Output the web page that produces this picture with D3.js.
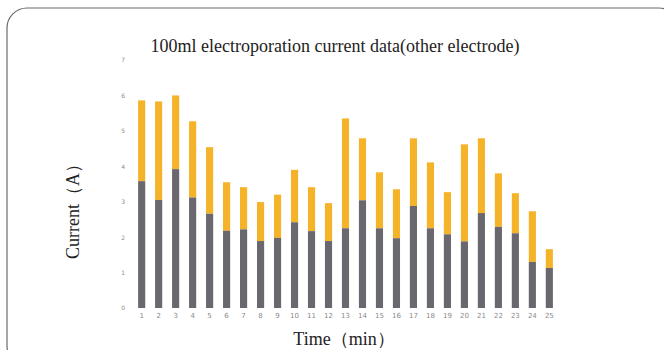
<!DOCTYPE html>
<html><head><meta charset="utf-8">
<script src="https://cdn.jsdelivr.net/npm/d3@7"></script>
<style>body{margin:0;background:#fff;}svg{display:block;}</style>
</head><body>
<svg id="c" width="664" height="350"></svg>
<script>
const categories = ["1","2","3","4","5","6","7","8","9","10","11","12","13","14","15","16","17","18","19","20","21","22","23","24","25"];
const grayValues = [3.58,3.05,3.92,3.12,2.66,2.18,2.22,1.89,1.98,2.42,2.17,1.89,2.25,3.04,2.25,1.97,2.88,2.25,2.08,1.88,2.68,2.29,2.11,1.30,1.13];
const totalValues = [5.86,5.83,6.0,5.27,4.54,3.55,3.41,2.99,3.2,3.9,3.41,2.96,5.35,4.79,3.83,3.35,4.79,4.11,3.27,4.62,4.79,3.8,3.24,2.73,1.66];
const yTicks = [0,1,2,3,4,5,6,7];

const svg = d3.select("#c");
svg.append("rect").attr("x",7).attr("y",8).attr("width",672).attr("height",358).attr("rx",20)
  .attr("fill","none").attr("stroke","#6a6a6a").attr("stroke-width",1.2);

const x = d3.scaleBand().domain(categories).range([133,558]).paddingInner(0.58).paddingOuter(0.3);
const y = d3.scaleLinear().domain([0,7]).range([308,60]);

const g = svg.append("g");
g.selectAll("rect.o").data(categories).join("rect").attr("class","o")
  .attr("x",d=>x(d)).attr("width",x.bandwidth())
  .attr("y",(d,i)=>y(totalValues[i])).attr("height",(d,i)=>y(grayValues[i])-y(totalValues[i]))
  .attr("fill","#F5B32A");
g.selectAll("rect.g").data(categories).join("rect").attr("class","g")
  .attr("x",d=>x(d)).attr("width",x.bandwidth())
  .attr("y",(d,i)=>y(grayValues[i])).attr("height",(d,i)=>y(0)-y(grayValues[i]))
  .attr("fill","#6B676E");

const ya = svg.append("g").attr("transform","translate(127,0)")
  .call(d3.axisLeft(y).tickValues(yTicks).tickFormat(d3.format("d")).tickSize(0).tickPadding(2));
ya.select(".domain").remove();
ya.selectAll("text").attr("fill","#8a8a8a").attr("font-size",6).attr("font-family","DejaVu Sans");

const xa = svg.append("g").attr("transform","translate(0,311)")
  .call(d3.axisBottom(x).tickSize(0).tickPadding(2));
xa.select(".domain").remove();
xa.selectAll("text").attr("fill","#8a8a8a").attr("font-size",7).attr("font-family","DejaVu Sans");

svg.append("text").attr("x",335).attr("y",52).attr("text-anchor","middle")
  .attr("font-family","Liberation Serif").attr("font-size",18).attr("fill","#222")
  .text("100ml electroporation current data(other electrode)");
svg.append("text").attr("transform","translate(79,207) rotate(-90)").attr("text-anchor","middle")
  .attr("font-family","Liberation Serif").attr("font-size",18).attr("fill","#222")
  .text("Current（A）");
svg.append("text").attr("x",344).attr("y",345).attr("text-anchor","middle")
  .attr("font-family","Liberation Serif").attr("font-size",18).attr("fill","#222")
  .text("Time（min）");
</script>
</body></html>
